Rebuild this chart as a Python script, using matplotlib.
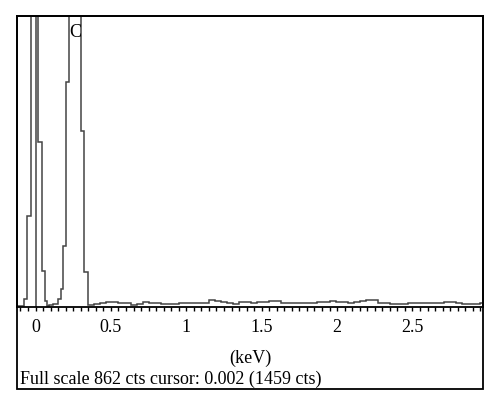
import numpy as np
import matplotlib
matplotlib.use('Agg')
import matplotlib.pyplot as plt
from matplotlib.patches import Rectangle

plt.rcParams['font.family'] = ['Liberation Serif', 'DejaVu Serif']

# EDS spectrum, counts per channel (keV edges)
peakEdges = [-0.123, -0.076, -0.054, -0.032, -0.010, 0.019, 0.045, 0.063, 0.074,
             0.092, 0.118, 0.151, 0.167, 0.180, 0.199, 0.220, 0.260, 0.300, 0.322, 0.350]
peakCounts = [4, 24, 270, 1300, 1459, 490, 108, 19, 4,
              5, 8, 24, 53, 182, 666, 1050, 980, 520, 103]

noiseStart = 0.35
noiseWidth = 0.04
noiseCounts = [6, 9, 12, 14, 15, 12, 11, 5, 9, 16, 12, 11, 9, 9, 9, 11, 11, 11, 12, 12,
               20, 17, 16, 12, 10, 14, 14, 13, 14, 14, 17, 17, 12, 11, 11, 12, 12, 13, 14, 14,
               17, 16, 14, 13, 16, 17, 20, 21, 13, 12, 10, 9, 9, 11, 11, 12, 12, 12, 13, 14,
               14, 13, 10, 8, 9, 11]

fullScale = 862
cursorKeV = 0.002
cursorCts = 1459
xTicks = [0, 0.5, 1, 1.5, 2, 2.5]
xTickLabels = ['0', '0.5', '1', '1.5', '2', '2.5']

noiseEdges = noiseStart + noiseWidth * np.arange(len(noiseCounts) + 1)
edges = np.concatenate([peakEdges, noiseEdges[1:]])
counts = np.concatenate([peakCounts, noiseCounts])

lineCol = '#444444'

fig = plt.figure(figsize=(5, 4.1), dpi=100)
ax = fig.add_axes([0.034, 0.2488, 0.932, 0.7098])

ax.stairs(counts, edges, color=lineCol, linewidth=1.1, baseline=None)
ax.axvline(cursorKeV, color=lineCol, linewidth=1.1)
ax.text(0.262, 815, 'C', ha='center', va='center', fontsize=13)

ax.set_xlim(-0.123, 2.968)
ax.set_ylim(0, fullScale)
ax.set_yticks([])
ax.set_xticks(xTicks)
ax.set_xticklabels(xTickLabels, fontsize=13)
ax.set_xticks(np.arange(-0.1, 2.96, 0.05), minor=True)
ax.tick_params(axis='x', which='both', direction='out', length=3, width=1, pad=5)
for s in ax.spines.values():
    s.set_linewidth(1.3)

fig.text(0.5, (410 - 358) / 410, '(keV)', ha='center', va='center', fontsize=13)
fig.text(0.040, (410 - 379) / 410,
         'Full scale %d cts cursor: %.3f (%d cts)' % (fullScale, cursorKeV, cursorCts),
         ha='left', va='center', fontsize=13)

fig.patches.append(Rectangle((0.034, 20 / 410), 0.932, 373 / 410, transform=fig.transFigure,
                             fill=False, edgecolor='black', linewidth=1.3))

fig.savefig('out.png', dpi=100)
